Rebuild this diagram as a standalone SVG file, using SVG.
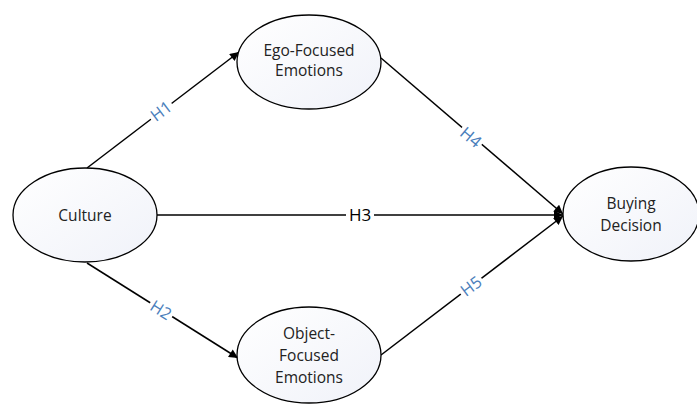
<svg xmlns="http://www.w3.org/2000/svg" width="697" height="405" viewBox="0 0 697 405">
<style>
.node ellipse{fill:url(#g);stroke:#000;stroke-width:1.3}
.node text{font-family:"Open Sans","Liberation Sans",Arial,sans-serif;font-size:15.5px;fill:#222;text-anchor:middle}
.edge line{stroke:#000;stroke-width:1.5}
.lbl{font-family:"Open Sans","Liberation Sans",Arial,sans-serif;font-size:16.5px;fill:#4a7ebb;text-anchor:middle}
.bg{fill:#fff}
</style>
<defs>
<linearGradient id="g" x1="0" y1="0" x2="1" y2="1">
<stop offset="0" stop-color="#ffffff"/>
<stop offset="1" stop-color="#f0f2f9"/>
</linearGradient>
<marker id="arr" viewBox="0 0 10 10" refX="10" refY="5" markerWidth="10" markerHeight="9" markerUnits="userSpaceOnUse" orient="auto">
<path d="M0,0 L10,5 L0,10 z" fill="#000"/>
</marker>
</defs>
<g id="connectors" class="edge">
<line x1="87" y1="168" x2="239" y2="52" marker-end="url(#arr)"/>
<line x1="87" y1="263" x2="238" y2="358" marker-end="url(#arr)"/>
<line x1="157" y1="215" x2="563" y2="215" marker-end="url(#arr)"/>
<line x1="381" y1="58" x2="563" y2="214" marker-end="url(#arr)"/>
<line x1="381" y1="355" x2="563" y2="216" marker-end="url(#arr)"/>
<g transform="translate(161,111) rotate(-37)"><rect class="bg" x="-13" y="-9" width="26" height="18"/><text class="lbl" y="6">H1</text></g>
<g transform="translate(161,310) rotate(32)"><rect class="bg" x="-13" y="-9" width="26" height="18"/><text class="lbl" y="6">H2</text></g>
<g transform="translate(360,215)"><rect class="bg" x="-14" y="-9" width="28" height="18"/><text y="6" style="font-family:'Open Sans','Liberation Sans',Arial,sans-serif;font-size:17px;fill:#000;text-anchor:middle">H3</text></g>
<g transform="translate(471,137) rotate(40)"><rect class="bg" x="-13" y="-9" width="26" height="18"/><text class="lbl" y="6">H4</text></g>
<g transform="translate(471,286) rotate(-37)"><rect class="bg" x="-13" y="-9" width="26" height="18"/><text class="lbl" y="6">H5</text></g>
</g>
<g id="culture" class="node"><ellipse cx="85" cy="215" rx="72" ry="47"/><text x="85" y="221">Culture</text></g>
<g id="ego" class="node"><ellipse cx="309" cy="62" rx="72" ry="47"/><text x="309" y="56">Ego-Focused</text><text x="309" y="76">Emotions</text></g>
<g id="object" class="node"><ellipse cx="309" cy="355" rx="72" ry="48"/><text x="309" y="339">Object-</text><text x="309" y="361">Focused</text><text x="309" y="383">Emotions</text></g>
<g id="buying" class="node"><ellipse cx="631" cy="214" rx="68" ry="47"/><text x="631" y="209">Buying</text><text x="631" y="231">Decision</text></g>
</svg>
